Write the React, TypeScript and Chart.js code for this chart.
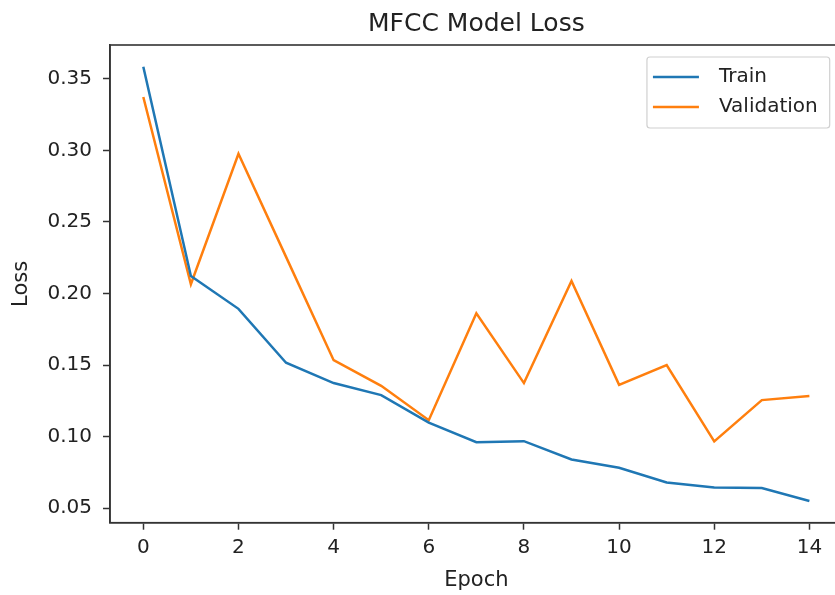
import React, { useEffect, useRef } from "react";
import { Chart, registerables } from "chart.js";

Chart.register(...registerables);

const epochs = [0, 1, 2, 3, 4, 5, 6, 7, 8, 9, 10, 11, 12, 13, 14];
const trainLoss = [0.3585, 0.2122, 0.1893, 0.1516, 0.1374, 0.129, 0.1098, 0.0961, 0.0968, 0.084, 0.0782, 0.0679, 0.0645, 0.064, 0.055];
const valLoss = [0.3373, 0.2065, 0.2977, 0.2256, 0.1534, 0.1355, 0.1115, 0.1862, 0.1374, 0.2087, 0.1362, 0.15, 0.0966, 0.1255, 0.1283];
const seriesNames = ["Train", "Validation"];
const seriesColors = ["#1f77b4", "#ff7f0e"];
const xTickStep = 2;
const yTickStep = 0.05;

const FONT = "'DejaVu Sans', sans-serif";
const TEXT = "#222222";

const allY = [...trainLoss, ...valLoss];
const yLo = Math.min(...allY);
const yHi = Math.max(...allY);
const yPad = (yHi - yLo) * 0.05;
const xLo = Math.min(...epochs);
const xHi = Math.max(...epochs);
const xPad = (xHi - xLo) * 0.05;

const framePlugin = {
  id: "frame",
  afterDraw(chart: any) {
    const { ctx, chartArea } = chart;
    ctx.save();
    ctx.strokeStyle = "#333";
    ctx.lineWidth = 1.6;
    ctx.strokeRect(chartArea.left, chartArea.top, chartArea.right - chartArea.left, chartArea.bottom - chartArea.top);

    // legend (upper right)
    const fontSize = 20;
    ctx.font = `${fontSize}px ${FONT}`;
    const names = chart.data.datasets.map((d: any) => d.label);
    const textW = Math.max(...names.map((n: string) => ctx.measureText(n).width));
    const handle = 46;
    const padL = 6;
    const gap = 20;
    const padR = 12;
    const rowH = 30;
    const boxW = padL + handle + gap + textW + padR;
    const boxH = rowH * names.length + 11;
    const bx = chartArea.right - 13 - boxW;
    const by = chartArea.top + 12;
    ctx.fillStyle = "rgba(255,255,255,0.85)";
    ctx.strokeStyle = "#d0d0d0";
    ctx.lineWidth = 1.2;
    ctx.beginPath();
    if ((ctx as any).roundRect) (ctx as any).roundRect(bx, by, boxW, boxH, 3);
    else ctx.rect(bx, by, boxW, boxH);
    ctx.fill();
    ctx.stroke();
    chart.data.datasets.forEach((d: any, i: number) => {
      const cy = by + 20 + i * rowH;
      ctx.strokeStyle = d.borderColor;
      ctx.lineWidth = 2.5;
      ctx.beginPath();
      ctx.moveTo(bx + padL, cy);
      ctx.lineTo(bx + padL + handle, cy);
      ctx.stroke();
      ctx.fillStyle = TEXT;
      ctx.textBaseline = "middle";
      ctx.textAlign = "left";
      ctx.fillText(d.label, bx + padL + handle + gap, cy);
    });
    ctx.restore();
  },
};

export default function App() {
  const ref = useRef<HTMLCanvasElement | null>(null);
  useEffect(() => {
    if (!ref.current) return;
    const chart = new Chart(ref.current, {
      type: "line",
      data: {
        datasets: [trainLoss, valLoss].map((arr, k) => ({
          label: seriesNames[k],
          data: arr.map((y, i) => ({ x: epochs[i], y })),
          borderColor: seriesColors[k],
          backgroundColor: seriesColors[k],
          borderWidth: 2.5,
          pointRadius: 0,
          tension: 0,
          fill: false,
        })),
      },
      options: {
        responsive: false,
        animation: false,
        devicePixelRatio: 1,
        layout: { padding: { left: 0, right: 17.3, top: 0, bottom: 0 } },
        plugins: {
          legend: { display: false },
          tooltip: { enabled: false },
          title: {
            display: true,
            text: "MFCC Model Loss",
            fullSize: false,
            color: TEXT,
            font: { family: FONT, size: 25, weight: "normal" },
            padding: { top: 9, bottom: 6 },
          },
        },
        scales: {
          x: {
            type: "linear",
            min: xLo - xPad,
            max: xHi + xPad,
            afterFit: (s: any) => {
              s.height = 72.3;
            },
            ticks: {
              stepSize: xTickStep,
              includeBounds: false,
              maxRotation: 0,
              color: TEXT,
              padding: 6,
              font: { family: FONT, size: 20 },
            },
            grid: { drawOnChartArea: false, drawTicks: true, tickLength: 7, tickWidth: 1.5, color: "#333" },
            border: { display: true, color: "#333", width: 1.6 },
            title: {
              display: true,
              text: "Epoch",
              color: TEXT,
              font: { family: FONT, size: 21 },
              padding: { top: 0, bottom: 2 },
            },
          },
          y: {
            type: "linear",
            min: yLo - yPad,
            max: yHi + yPad,
            afterFit: (s: any) => {
              s.width = 110;
            },
            ticks: {
              stepSize: yTickStep,
              includeBounds: false,
              color: TEXT,
              padding: 11,
              font: { family: FONT, size: 20 },
              callback: (v: any) => Number(v).toFixed(2),
            },
            grid: { drawOnChartArea: false, drawTicks: true, tickLength: 7, tickWidth: 1.5, color: "#333" },
            border: { display: true, color: "#333", width: 1.6 },
            title: {
              display: true,
              text: "Loss",
              color: TEXT,
              font: { family: FONT, size: 21 },
              padding: { top: 9, bottom: 0 },
            },
          },
        },
      },
      plugins: [framePlugin],
    });
    return () => chart.destroy();
  }, []);
  return (
    <div style={{ position: "fixed", left: 0, top: 0, width: 835, height: 595, overflow: "hidden", background: "#fff" }}>
      <canvas ref={ref} width={860} height={595} style={{ width: 860, height: 595, display: "block" }} />
    </div>
  );
}
